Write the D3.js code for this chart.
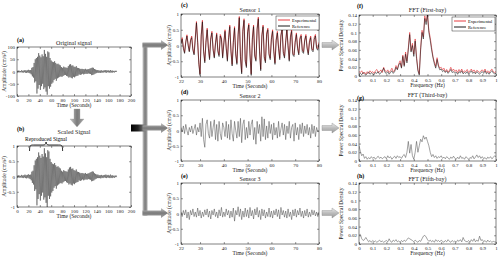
<!DOCTYPE html>
<html>
<head>
<meta charset="utf-8">
<script src="https://cdn.jsdelivr.net/npm/d3@7"></script>
<style>body{margin:0;background:#fff}</style>
</head>
<body>
<div id="container"></div>
<script>
// ---- data ----

// original record, one sample per second from 0 s (cm/s^2)
const originalSignal = [
  2,-3,4,-2,3,-4,2,-3,5,-4,3,-5,4,-3,6,-5,4,-6,5,-4,7,-6,5,-8,6,
  -12,15,-20,18,-25, 35,-45,50,-40,55, -90,60,-70,75,-55, 65,-75,58,-60,70,
  -50,62,-72,88,-65, 72,-82,60,-95,82, -60,78,-70,55,-62, 45,-50,40,-45,38,
  -35,42,-30,35,-38, 30,-28,32,-25,28, -22,25,-20,18,-22, 15,-18,20,-15,17,
  -14,16,-18,15,-20, 22,-25,28,-22,30, -26,24,-28,25,-22, 20,-24,18,-20,22,
  -18,15,-17,14,-12, 12,-14,10,-12,11, -9,10,-12,9,-10, 11,-9,8,-10,9,
  -8,10,-9,12,-10, 14,-15,16,-14,15, -12,10,-9,8,-7, 6,-5,6,-5,4,
  -5,4,-6,5,-4,3,-5,4,-3,5,-4,6,-5,4,-3,5,-4,3,-5,6,-4,3,-5,4,-3,2,-4,3,-2,3,-2
];
const originalStart = 0, originalStep = 1;
const reproducedWindow = [22, 80];

// sensor records, 0.5 s samples from 22 s
const sensorStart = 22, sensorStep = 0.5;
const sensor1Reference = [
  0.05,0.2,-0.1,-0.25, 0.1,0.3,0.0,-0.2, 0.15,0.25,-0.15,-0.3, 0.2,0.72,0.1,-0.6,
  -0.95,0.3,0.75,-0.2, -0.55,0.1,0.5,-0.1, -0.45,0.2,0.4,-0.15, -0.4,0.05,0.35,-0.2,
  -0.35,0.3,0.2,-0.4, 0.05,0.45,-0.1,-0.5, 0.2,0.6,-0.2,-0.65, 0.1,0.55,-0.3,-0.6,
  0.3,0.88,-0.4,-0.9, 0.45,0.8,-0.5,-0.7, 0.4,0.65,-0.3,-0.95, 0.2,0.6,-0.35,-0.5,
  0.5,0.85,-0.2,-0.8, 0.3,0.6,-0.4,-0.55, 0.35,0.5,-0.3,-0.45, 0.2,0.45,-0.2,-0.6,
  0.15,0.4,-0.1,-0.45, 0.3,0.5,-0.25,-0.4, 0.1,0.5,-0.05,-0.5, 0.25,0.45,-0.3,-0.35,
  0.1,0.35,-0.1,-0.3, 0.2,0.3,-0.2,-0.25, 0.15,0.3,-0.1,-0.3, 0.1,0.25,-0.15,-0.2,
  0.2,0.3,-0.1,-0.15, 0.05
];
const sensor1Experimental = [
  0.08,0.25,-0.05,-0.22, 0.12,0.34,0.05,-0.18, 0.18,0.3,-0.1,-0.26, 0.25,0.76,0.15,-0.55,
  -0.9,0.35,0.8,-0.15, -0.5,0.15,0.55,-0.05, -0.4,0.25,0.45,-0.1, -0.36,0.1,0.4,-0.15,
  -0.3,0.35,0.25,-0.35, 0.1,0.5,-0.05,-0.45, 0.25,0.65,-0.15,-0.6, 0.15,0.6,-0.25,-0.55,
  0.35,0.92,-0.35,-0.85, 0.5,0.85,-0.45,-0.65, 0.45,0.7,-0.25,-0.9, 0.25,0.65,-0.3,-0.45,
  0.55,0.9,-0.15,-0.75, 0.35,0.65,-0.35,-0.5, 0.4,0.55,-0.25,-0.4, 0.25,0.5,-0.15,-0.55,
  0.2,0.45,-0.05,-0.4, 0.35,0.55,-0.2,-0.35, 0.15,0.55,0.0,-0.45, 0.3,0.5,-0.25,-0.3,
  0.15,0.4,-0.05,-0.25, 0.25,0.35,-0.15,-0.2, 0.2,0.35,-0.05,-0.25, 0.15,0.3,-0.1,-0.15,
  0.25,0.35,-0.05,-0.1, 0.1
];
const sensor2 = [
  0.1,-0.05,0.15,-0.1,0.2,0.0,-0.15,0.1, -0.05,0.15,-0.1,0.05,0.2,-0.15,0.1,-0.05,
  0.25,-0.2,0.4,-0.3,-0.55,0.2,0.35,-0.1, -0.25,0.3,-0.2,0.1,0.35,-0.3,0.2,-0.35,
  0.3,-0.1,-0.3,0.25,0.1,-0.2,0.3,-0.25, 0.2,-0.3,0.35,-0.1,-0.35,0.3,0.0,-0.25,
  0.3,-0.2,0.4,-0.4,0.2,0.35,-0.3,0.1, -0.25,0.3,-0.15,0.2,0.35,-0.3,0.1,-0.45,
  0.3,-0.1,0.2,-0.35,0.45,-0.2,0.38,-0.3, 0.15,-0.25,0.3,-0.1,0.2,-0.3,0.25,-0.15,
  0.1,-0.25,0.3,-0.2,0.05,0.25,-0.15,0.2, -0.3,0.15,-0.1,0.3,-0.25,0.1,0.2,-0.35,
  0.25,-0.15,0.1,-0.3,0.2,-0.1,0.25,-0.2, 0.15,-0.1,0.2,-0.15,0.1,-0.25,0.2,-0.1,
  0.15,-0.2,0.1,-0.05,0.0
];
const sensor3 = [
  0.05,-0.1,0.1,-0.05,0.12,-0.15,0.05,-0.2, 0.1,-0.05,0.15,-0.1,0.05,-0.12,0.18,-0.08,
  0.1,-0.15,0.05,-0.1,0.12,-0.05,0.15,-0.12, 0.08,-0.18,0.1,-0.05,0.15,-0.1,0.05,-0.15,
  0.12,-0.08,0.2,-0.12,0.05,-0.1,0.15,-0.05, 0.1,-0.15,0.08,-0.12,0.18,-0.25,0.1,-0.05,
  0.22,-0.1,0.15,-0.2,0.08,-0.12,0.18,-0.1, 0.12,-0.15,0.2,-0.08,0.1,-0.18,0.15,-0.05,
  0.2,-0.12,0.1,-0.2,0.15,-0.08,0.12,-0.15, 0.05,-0.1,0.18,-0.12,0.08,-0.15,0.1,-0.05,
  0.15,-0.1,0.12,-0.18,0.2,-0.05,0.1,-0.12, 0.08,-0.15,0.15,-0.1,0.05,-0.2,0.12,-0.08,
  0.15,-0.12,0.1,-0.05,0.18,-0.1,0.08,-0.15, 0.1,-0.08,0.15,-0.12,0.05,-0.1,0.12,-0.05,
  0.1,-0.08,0.05,-0.1,0.05
];

// power spectral density, 0.01 Hz bins from 0 to 1 Hz
const freqStart = 0, freqStep = 0.01;
const psdBay1Reference = [
  0.004,0.006,0.003,0.008,0.005,0.002,0.006,0.009,0.004,0.007,
  0.005,0.003,0.008,0.006,0.01,0.004,0.007,0.012,0.018,0.008,
  0.006,0.01,0.004,0.008,0.012,0.006,0.01,0.02,0.014,0.025,
  0.03,0.018,0.045,0.022,0.05,0.03,0.06,0.095,0.055,0.07,
  0.045,0.08,0.04,0.012,0.002,0.06,0.1,0.085,0.132,0.118,
  0.14,0.1,0.082,0.06,0.042,0.028,0.018,0.038,0.022,0.014,
  0.016,0.01,0.013,0.008,0.012,0.006,0.01,0.015,0.008,0.01,
  0.006,0.009,0.004,0.01,0.007,0.012,0.005,0.008,0.006,0.01,
  0.004,0.008,0.012,0.006,0.009,0.005,0.01,0.007,0.004,0.008,
  0.01,0.006,0.012,0.005,0.008,0.004,0.009,0.012,0.007,0.005,
  0.006
];
const psdBay1Experimental = [
  0.01,0.008,0.012,0.005,0.009,0.004,0.01,0.006,0.012,0.008,
  0.01,0.006,0.012,0.015,0.008,0.01,0.014,0.008,0.02,0.012,
  0.01,0.014,0.008,0.012,0.018,0.01,0.012,0.024,0.016,0.028,
  0.035,0.02,0.048,0.025,0.055,0.034,0.065,0.1,0.058,0.075,
  0.05,0.085,0.045,0.015,0.005,0.065,0.105,0.09,0.138,0.125,
  0.142,0.105,0.088,0.065,0.045,0.032,0.022,0.042,0.025,0.018,
  0.02,0.014,0.018,0.01,0.015,0.009,0.013,0.02,0.012,0.016,
  0.01,0.014,0.008,0.015,0.01,0.016,0.008,0.012,0.01,0.015,
  0.008,0.012,0.016,0.01,0.014,0.008,0.013,0.011,0.008,0.012,
  0.014,0.01,0.016,0.008,0.012,0.007,0.013,0.016,0.01,0.008,
  0.01
];
const psdBay3 = [
  0.035,0.022,0.012,0.016,0.006,0.01,0.004,0.008,0.005,0.01,
  0.006,0.009,0.004,0.008,0.011,0.006,0.009,0.005,0.008,0.01,
  0.005,0.012,0.007,0.01,0.004,0.008,0.011,0.006,0.012,0.008,
  0.01,0.006,0.012,0.015,0.008,0.02,0.045,0.018,0.038,0.012,
  0.004,0.02,0.045,0.02,0.035,0.05,0.044,0.058,0.05,0.055,
  0.045,0.035,0.02,0.01,0.015,0.008,0.012,0.006,0.01,0.008,
  0.012,0.006,0.009,0.005,0.01,0.007,0.004,0.009,0.006,0.011,
  0.006,0.004,0.009,0.005,0.012,0.006,0.008,0.004,0.01,0.007,
  0.004,0.008,0.006,0.012,0.005,0.009,0.014,0.008,0.012,0.006,
  0.01,0.005,0.008,0.004,0.009,0.006,0.01,0.005,0.008,0.012,
  0.01
];
const psdBay5 = [
  0.02,0.022,0.012,0.008,0.01,0.015,0.01,0.005,0.008,0.004,
  0.008,0.005,0.007,0.004,0.006,0.009,0.005,0.007,0.004,0.006,
  0.008,0.005,0.012,0.006,0.004,0.009,0.006,0.01,0.005,0.007,
  0.004,0.008,0.005,0.009,0.006,0.01,0.014,0.012,0.01,0.008,
  0.005,0.009,0.006,0.004,0.008,0.006,0.012,0.018,0.02,0.016,
  0.01,0.006,0.009,0.005,0.008,0.004,0.01,0.006,0.008,0.005,
  0.009,0.006,0.004,0.008,0.005,0.01,0.006,0.004,0.008,0.005,
  0.007,0.004,0.009,0.006,0.01,0.005,0.015,0.008,0.006,0.005,
  0.008,0.004,0.01,0.006,0.012,0.005,0.009,0.006,0.018,0.008,
  0.01,0.005,0.008,0.004,0.009,0.005,0.007,0.004,0.006,0.005,
  0.004
];

// tick labels
const ampTicks = [-100, -50, 0, 50, 100];
const unitTicks = [-1, -0.5, 0, 0.5, 1];
const timeTicksLong = [0, 20, 40, 60, 80, 100, 120, 140, 160, 180, 200];
const timeTicksShort = [22, 30, 40, 50, 60, 70, 80];
const psdTicks = [0, 0.02, 0.04, 0.06, 0.08, 0.1, 0.12, 0.14];
const freqTicks = [0, 0.1, 0.2, 0.3, 0.4, 0.5, 0.6, 0.7, 0.8, 0.9, 1];

// ---- drawing ----
const width = 498, height = 260;
const svg = d3.select("#container").append("svg")
    .attr("width", width)
    .attr("height", height)
    .style("font-family", "'Liberation Serif', 'DejaVu Serif', serif");

const defs = svg.append("defs");

function gradient(id, stops, vertical) {
    const lg = defs.append("linearGradient").attr("id", id)
        .attr("x1", 0).attr("y1", 0)
        .attr("x2", vertical ? 0 : 1).attr("y2", vertical ? 1 : 0);
    stops.forEach((c, i) => lg.append("stop")
        .attr("offset", i / (stops.length - 1)).attr("stop-color", c));
}
gradient("tubeV", ["#c8c8c8", "#7a7a7a", "#a8a8a8"], false);
gradient("tubeH", ["#c8c8c8", "#7a7a7a", "#a8a8a8"], true);
gradient("blackBar", ["#000", "#222", "#888"], false);
gradient("lightArrow", ["#eeeeee", "#bcbcbc", "#9a9a9a"], true);

let clipCount = 0;
const fmt = d => String(d);

function drawPanel(p) {
    const x = d3.scaleLinear().domain(p.xDomain).range([p.left, p.right]);
    const y = d3.scaleLinear().domain(p.yDomain).range([p.bottom, p.top]);
    const g = svg.append("g");

    const clipId = "clip" + (clipCount++);
    defs.append("clipPath").attr("id", clipId).append("rect")
        .attr("x", p.left).attr("y", p.top)
        .attr("width", p.right - p.left).attr("height", p.bottom - p.top);

    const plot = g.append("g").attr("clip-path", `url(#${clipId})`);
    p.series.forEach(s => {
        const line = d3.line()
            .x((d, i) => x(s.start + i * s.step))
            .y(d => y(d));
        plot.append("path")
            .datum(s.values)
            .attr("d", line)
            .attr("fill", "none")
            .attr("stroke", s.color)
            .attr("stroke-width", s.width)
            .attr("stroke-linejoin", "round");
    });

    // axes with inward ticks on all four sides
    const styleAxis = sel => {
        sel.select(".domain").remove();
        sel.selectAll("line").attr("stroke", "#000").attr("stroke-width", 0.4);
        sel.selectAll("text").attr("font-size", 5).attr("fill", "#222")
            .attr("font-family", "'Liberation Serif', serif");
    };
    g.append("g").attr("transform", `translate(0,${p.bottom})`)
        .call(d3.axisBottom(x).tickValues(p.xTicks).tickFormat(fmt).tickSize(-2).tickPadding(2))
        .call(styleAxis);
    g.append("g").attr("transform", `translate(0,${p.top})`)
        .call(d3.axisTop(x).tickValues(p.xTicks).tickFormat("").tickSize(-2))
        .call(styleAxis);
    g.append("g").attr("transform", `translate(${p.left},0)`)
        .call(d3.axisLeft(y).tickValues(p.yTicks).tickFormat(fmt).tickSize(-2).tickPadding(2))
        .call(styleAxis);
    g.append("g").attr("transform", `translate(${p.right},0)`)
        .call(d3.axisRight(y).tickValues(p.yTicks).tickFormat("").tickSize(-2))
        .call(styleAxis);

    g.append("rect")
        .attr("x", p.left).attr("y", p.top)
        .attr("width", p.right - p.left).attr("height", p.bottom - p.top)
        .attr("fill", "none").attr("stroke", "#000").attr("stroke-width", 0.5);

    const cx = (p.left + p.right) / 2;
    g.append("text").attr("x", cx).attr("y", p.titleY)
        .attr("text-anchor", "middle").attr("font-size", 6).attr("fill", "#222").text(p.title);
    g.append("text").attr("x", p.letterX).attr("y", p.letterY)
        .attr("font-size", 6).attr("font-weight", "bold").text(p.letter);
    g.append("text").attr("x", cx).attr("y", p.bottom + 11)
        .attr("text-anchor", "middle").attr("font-size", 5.5).attr("fill", "#222").text(p.xLabel);
    const ly = (p.top + p.bottom) / 2;
    g.append("text")
        .attr("transform", `translate(${p.yLabelX},${ly}) rotate(-90)`)
        .attr("text-anchor", "middle").attr("font-size", 5.5).attr("fill", "#222").text(p.yLabel);

    if (p.legend) {
        const L = p.legend;
        g.append("rect").attr("x", L.x).attr("y", L.y).attr("width", L.w).attr("height", 14)
            .attr("fill", "#fff").attr("stroke", "#000").attr("stroke-width", 0.4);
        L.items.forEach((it, i) => {
            const yy = L.y + 4 + i * 6;
            g.append("line").attr("x1", L.x + 2).attr("x2", L.x + 14)
                .attr("y1", yy).attr("y2", yy)
                .attr("stroke", it.color).attr("stroke-width", 0.9);
            g.append("text").attr("x", L.x + 16).attr("y", yy + 1.6)
                .attr("font-size", 4.5).text(it.label);
        });
    }
    return { x, y, g };
}

const ampLabel = "Amplitude (cm/s²)";
const psdLabel = "Power Spectral Density";

// (a) original signal
drawPanel({
    left: 17, right: 131, top: 47, bottom: 96,
    xDomain: [0, 200], yDomain: [-100, 100], xTicks: timeTicksLong, yTicks: ampTicks,
    title: "Original signal", titleY: 45, letter: "(a)", letterX: 17, letterY: 42,
    xLabel: "Time (Seconds)", yLabel: ampLabel, yLabelX: 6,
    series: [{ values: originalSignal, start: originalStart, step: originalStep, color: "#2a2a2a", width: 0.45 }]
});

// (b) scaled signal (original normalised by its peak)
const peak = d3.max(originalSignal, d => Math.abs(d));
const scaledSignal = originalSignal.map(d => d / peak);
const pb = drawPanel({
    left: 17, right: 131, top: 146, bottom: 207,
    xDomain: [0, 200], yDomain: [-1, 1], xTicks: timeTicksLong, yTicks: unitTicks,
    title: "Scaled Signal", titleY: 134, letter: "(b)", letterX: 17, letterY: 131,
    xLabel: "Time (Seconds)", yLabel: ampLabel, yLabelX: 6,
    series: [{ values: scaledSignal, start: originalStart, step: originalStep, color: "#2a2a2a", width: 0.45 }]
});
{
    const x0 = pb.x(reproducedWindow[0]), x1 = pb.x(reproducedWindow[1]);
    const xm = (x0 + x1) / 2, yt = 142, yb = 151;
    pb.g.append("path")
        .attr("d", `M${x0},${yb} C${x0},${yt + 3} ${x0 + 1},${yt + 3} ${x0 + 4},${yt + 3}
                    L${xm - 3},${yt + 3} C${xm - 1},${yt + 3} ${xm},${yt + 2} ${xm},${yt}
                    C${xm},${yt + 2} ${xm + 1},${yt + 3} ${xm + 3},${yt + 3}
                    L${x1 - 4},${yt + 3} C${x1 - 1},${yt + 3} ${x1},${yt + 3} ${x1},${yb}`)
        .attr("fill", "none").attr("stroke", "#000").attr("stroke-width", 0.8);
    pb.g.append("text").attr("x", xm).attr("y", 140.5)
        .attr("text-anchor", "middle").attr("font-size", 5.5).text("Reproduced Signal");
}

// (c)-(e) sensors
drawPanel({
    left: 181, right: 319, top: 14, bottom: 77,
    xDomain: [22, 80], yDomain: [-1, 1], xTicks: timeTicksShort, yTicks: unitTicks,
    title: "Sensor 1", titleY: 12, letter: "(c)", letterX: 181, letterY: 7,
    xLabel: "Time (Seconds)", yLabel: ampLabel, yLabelX: 171,
    series: [
        { values: sensor1Experimental, start: sensorStart, step: sensorStep, color: "#e3262b", width: 0.7 },
        { values: sensor1Reference, start: sensorStart, step: sensorStep, color: "#111", width: 0.6 }
    ],
    legend: { x: 276, y: 16, w: 43, items: [{ label: "Experimental", color: "#e3262b" }, { label: "Reference", color: "#000" }] }
});
drawPanel({
    left: 181, right: 319, top: 100, bottom: 161,
    xDomain: [22, 80], yDomain: [-1, 1], xTicks: timeTicksShort, yTicks: unitTicks,
    title: "Sensor 2", titleY: 97.5, letter: "(d)", letterX: 181, letterY: 93.5,
    xLabel: "Time (Seconds)", yLabel: ampLabel, yLabelX: 171,
    series: [{ values: sensor2, start: sensorStart, step: sensorStep, color: "#555", width: 0.55 }]
});
drawPanel({
    left: 181, right: 319, top: 183, bottom: 244,
    xDomain: [22, 80], yDomain: [-1, 1], xTicks: timeTicksShort, yTicks: unitTicks,
    title: "Sensor 3", titleY: 180.5, letter: "(e)", letterX: 181, letterY: 177.5,
    xLabel: "Time (Seconds)", yLabel: ampLabel, yLabelX: 171,
    series: [{ values: sensor3, start: sensorStart, step: sensorStep, color: "#555", width: 0.55 }]
});

// (f)-(h) spectra
drawPanel({
    left: 359, right: 496, top: 15, bottom: 76,
    xDomain: [0, 1], yDomain: [0, 0.14], xTicks: freqTicks, yTicks: psdTicks,
    title: "FFT (First-bay)", titleY: 12, letter: "(f)", letterX: 357, letterY: 7.5,
    xLabel: "Frequency (Hz)", yLabel: psdLabel, yLabelX: 343,
    series: [
        { values: psdBay1Experimental, start: freqStart, step: freqStep, color: "#e3262b", width: 0.6 },
        { values: psdBay1Reference, start: freqStart, step: freqStep, color: "#111", width: 0.55 }
    ],
    legend: { x: 452, y: 17, w: 43, items: [{ label: "Experimental", color: "#e3262b" }, { label: "Reference", color: "#000" }] }
});
drawPanel({
    left: 359, right: 496, top: 100, bottom: 161,
    xDomain: [0, 1], yDomain: [0, 0.14], xTicks: freqTicks, yTicks: psdTicks,
    title: "FFT (Third-bay)", titleY: 97, letter: "(g)", letterX: 357, letterY: 99.5,
    xLabel: "Frequency (Hz)", yLabel: psdLabel, yLabelX: 343,
    series: [{ values: psdBay3, start: freqStart, step: freqStep, color: "#555", width: 0.55 }]
});
drawPanel({
    left: 359, right: 496, top: 183, bottom: 244,
    xDomain: [0, 1], yDomain: [0, 0.14], xTicks: freqTicks, yTicks: psdTicks,
    title: "FFT (Fifth-bay)", titleY: 181, letter: "(h)", letterX: 357, letterY: 178,
    xLabel: "Frequency (Hz)", yLabel: psdLabel, yLabelX: 343,
    series: [{ values: psdBay5, start: freqStart, step: freqStep, color: "#555", width: 0.55 }]
});

// ---- connecting arrows ----
const arrows = svg.append("g");
// down arrow (a) -> (b)
arrows.append("path")
    .attr("d", "M74,109 L80,109 L80,119 L84,119 L77,127 L70,119 L74,119 Z")
    .attr("fill", "url(#tubeV)").attr("stroke", "#999").attr("stroke-width", 0.3);

// vertical distribution bar
arrows.append("rect").attr("x", 142.5).attr("y", 43).attr("width", 5).attr("height", 172.5)
    .attr("fill", "url(#tubeV)");
// black feed bar from (b)
arrows.append("rect").attr("x", 131).attr("y", 124.5).attr("width", 14).attr("height", 7)
    .attr("fill", "url(#blackBar)");
// branch arrows into (c), (d), (e)
[45, 128, 213].forEach(yc => {
    arrows.append("path")
        .attr("d", `M142.5,${yc - 2.5} L161,${yc - 2.5} L161,${yc - 5} L168,${yc} L161,${yc + 5} L161,${yc + 2.5} L142.5,${yc + 2.5} Z`)
        .attr("fill", "url(#tubeH)");
});
// arrows sensor -> spectrum
[45, 128, 213].forEach(yc => {
    arrows.append("path")
        .attr("d", `M322,${yc - 2.5} L332,${yc - 2.5} L332,${yc - 5} L339,${yc} L332,${yc + 5} L332,${yc + 2.5} L322,${yc + 2.5} Z`)
        .attr("fill", "url(#lightArrow)").attr("stroke", "#8a8a8a").attr("stroke-width", 0.4);
});
</script>
</body>
</html>
